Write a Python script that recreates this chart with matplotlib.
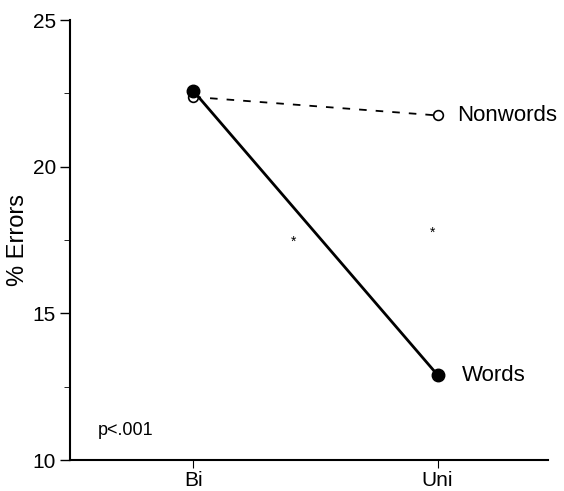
import matplotlib.pyplot as plt
from matplotlib.ticker import MultipleLocator

plt.rcParams['font.family'] = ['Liberation Sans', 'DejaVu Sans']

# data
conditions = ['Bi', 'Uni']
words = [22.58, 12.9]
nonwords = [22.38, 21.75]
star_x = [0.41, 0.98]
star_y = [17.45, 17.75]

fig = plt.figure(figsize=(5.64, 4.91), dpi=100)
ax = fig.add_axes([0.124, 0.063, 0.848, 0.896])

xpos = [0, 1]
ax.plot(xpos, nonwords, color='black', lw=1.3, ls=(0, (4.2, 5.0)),
        marker='o', ms=7, mfc='white', mec='black', mew=1.2, zorder=2)
ax.plot(xpos, words, color='black', lw=2, marker='o', ms=9,
        mfc='black', mec='black', zorder=3)

ax.text(1.08, nonwords[1], 'Nonwords', fontsize=16, va='center', ha='left')
ax.text(1.1, words[1], 'Words', fontsize=16, va='center', ha='left')
for sx, sy in zip(star_x, star_y):
    ax.text(sx, sy, '*', fontsize=10, ha='center', va='center')
ax.text(-0.39, 11.0, 'p<.001', fontsize=13, ha='left', va='center')

ax.set_xlim(-0.506, 1.453)
ax.set_ylim(10, 25)
ax.set_xticks(xpos)
ax.set_xticklabels(conditions, fontsize=15)
ax.set_yticks([10, 15, 20, 25])
ax.yaxis.set_minor_locator(MultipleLocator(2.5))
ax.tick_params(axis='y', labelsize=15, length=7, width=1, pad=3)
ax.tick_params(axis='y', which='minor', length=4, width=0.6)
ax.tick_params(axis='x', length=6, width=0.8, pad=2)
ax.set_ylabel('% Errors', fontsize=17, labelpad=3)

ax.spines['top'].set_visible(False)
ax.spines['right'].set_visible(False)
ax.spines['left'].set_linewidth(1.5)
ax.spines['bottom'].set_linewidth(1.5)

fig.savefig('out.png', dpi=100)
